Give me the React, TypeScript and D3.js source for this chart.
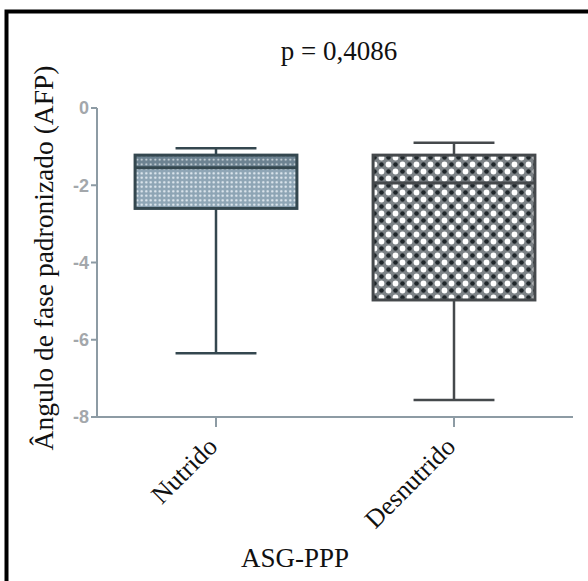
import React from "react";
import * as d3 from "d3";

const categories = ["Nutrido", "Desnutrido"];
const whiskerMax = [-1.04, -0.9];
const q3 = [-1.22, -1.22];
const median = [-1.55, -1.94];
const q1 = [-2.6, -4.97];
const whiskerMin = [-6.35, -7.56];
const yTicks = [0, -2, -4, -6, -8];
const title = "p = 0,4086";
const yLabel = "Ângulo de fase padronizado (AFP)";
const xLabel = "ASG-PPP";

const W = 588;
const H = 581;

export default function App() {
  const y = d3.scaleLinear().domain([-8, 0]).range([417, 108]);
  const x = d3.scalePoint<string>().domain(categories).range([97, 573]).padding(0.5);
  const step = x.step();
  const boxW = step * 0.68;
  const capW = step * 0.34;
  const axisColor = "#8d9ba4";
  const serif = "'Liberation Serif', 'DejaVu Serif', serif";
  const sans = "'Liberation Sans', Arial, sans-serif";
  const fills = ["url(#patA)", "url(#patB)"];
  const strokes = ["#34474f", "#45494c"];

  return (
    <svg width={W} height={H} style={{ position: "absolute", left: 0, top: 0, background: "#fff" }}>
      <defs>
        <pattern id="patA" width="4.5" height="4.5" patternUnits="userSpaceOnUse">
          <rect width="4.5" height="4.5" fill="#8ea5b5" />
          <circle cx="2.25" cy="2.25" r="1.15" fill="#e8eff5" />
        </pattern>
        <pattern id="patA2" width="4.5" height="4.5" patternUnits="userSpaceOnUse">
          <rect width="4.5" height="4.5" fill="#6c8291" />
          <circle cx="2.25" cy="2.25" r="1.0" fill="#dfe6ea" />
        </pattern>
        <pattern id="patB" width="14" height="14" patternUnits="userSpaceOnUse">
          <rect width="14" height="14" fill="#7c8286" />
          <circle cx="3.5" cy="3.5" r="2.9" fill="#ffffff" />
          <circle cx="10.5" cy="10.5" r="2.9" fill="#ffffff" />
          <circle cx="10.5" cy="3.5" r="2.3" fill="#1f262a" />
          <circle cx="3.5" cy="10.5" r="2.3" fill="#1f262a" />
        </pattern>
      </defs>

      {/* frame */}
      <path d={`M6.5,${H} V11.5 H${W}`} fill="none" stroke="#000" strokeWidth={4} />

      {/* title */}
      <text x={339} y={60} textAnchor="middle" fontFamily={serif} fontSize={27} fill="#111">
        {title}
      </text>

      {/* y axis */}
      <line x1={97} x2={97} y1={y(0)} y2={y(-8)} stroke={axisColor} strokeWidth={2} />
      {yTicks.map((t) => (
        <g key={t}>
          <line x1={91} x2={97} y1={y(t)} y2={y(t)} stroke={axisColor} strokeWidth={2} />
          <text x={89} y={y(t)} dy="0.36em" textAnchor="end" fontFamily={sans} fontWeight="bold" fontSize={18} fill="#a3a7ab">
            {t}
          </text>
        </g>
      ))}

      {/* x axis */}
      <line x1={97} x2={573} y1={y(-8)} y2={y(-8)} stroke={axisColor} strokeWidth={2} />
      {categories.map((c) => (
        <g key={c}>
          <line x1={x(c)} x2={x(c)} y1={y(-8)} y2={y(-8) + 10} stroke={axisColor} strokeWidth={2} />
          <text
            transform={`translate(${(x(c) as number) + 3},${y(-8) + 31}) rotate(-45)`}
            textAnchor="end"
            fontFamily={serif}
            fontSize={26}
            fill="#111"
          >
            {c}
          </text>
        </g>
      ))}

      {/* boxes */}
      {categories.map((c, i) => {
        const cx = x(c) as number;
        return (
          <g key={c}>
            <line x1={cx} x2={cx} y1={y(whiskerMax[i])} y2={y(q3[i])} stroke={strokes[i]} strokeWidth={2.5} />
            <line x1={cx} x2={cx} y1={y(q1[i])} y2={y(whiskerMin[i])} stroke={strokes[i]} strokeWidth={2.5} />
            <line x1={cx - capW / 2} x2={cx + capW / 2} y1={y(whiskerMax[i])} y2={y(whiskerMax[i])} stroke={strokes[i]} strokeWidth={2.5} />
            <line x1={cx - capW / 2} x2={cx + capW / 2} y1={y(whiskerMin[i])} y2={y(whiskerMin[i])} stroke={strokes[i]} strokeWidth={2.5} />
            <rect x={cx - boxW / 2} y={y(q3[i])} width={boxW} height={y(q1[i]) - y(q3[i])} fill={fills[i]} />
            {i === 0 && (
              <rect x={cx - boxW / 2} y={y(q3[i])} width={boxW} height={y(median[i]) - y(q3[i])} fill="url(#patA2)" />
            )}
            <rect x={cx - boxW / 2} y={y(q3[i])} width={boxW} height={y(q1[i]) - y(q3[i])} fill="none" stroke={strokes[i]} strokeWidth={3} />
            <line x1={cx - boxW / 2} x2={cx + boxW / 2} y1={y(median[i])} y2={y(median[i])} stroke={strokes[i]} strokeWidth={3} />
          </g>
        );
      })}

      {/* y label */}
      <text
        transform={`translate(53,258) rotate(-90)`}
        textAnchor="middle"
        fontFamily={serif}
        fontSize={27.5}
        fill="#111"
      >
        {yLabel}
      </text>

      {/* x label */}
      <text x={295} y={567} textAnchor="middle" fontFamily={serif} fontSize={27} fill="#111">
        {xLabel}
      </text>
    </svg>
  );
}
